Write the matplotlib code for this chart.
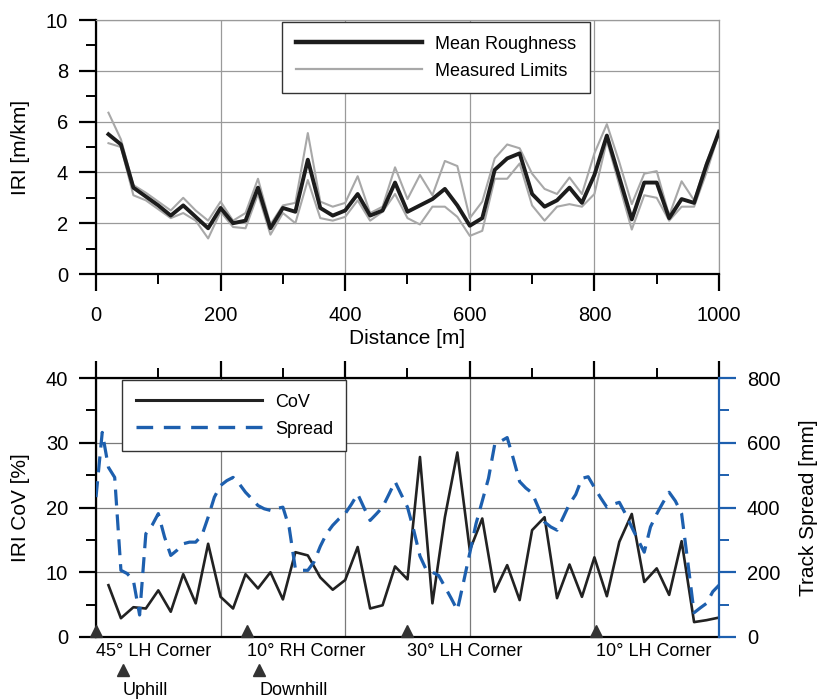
import matplotlib

matplotlib.use("Agg")
import matplotlib.pyplot as plt
import matplotlib.transforms as mtransforms
from matplotlib.lines import Line2D
from matplotlib.ticker import MultipleLocator
import numpy as np

plt.rcParams["font.family"] = ["Liberation Sans", "DejaVu Sans"]

# IRI roughness along the track, every 20 m
distance = np.arange(20, 1001, 20)
mean_iri = [5.5, 5.1, 3.4, 3.05, 2.7, 2.3, 2.7, 2.25, 1.8, 2.6,
            2.0, 2.1, 3.4, 1.8, 2.6, 2.45, 4.5, 2.6, 2.3, 2.5,
            3.15, 2.3, 2.5, 3.6, 2.45, 2.7, 2.95, 3.35, 2.7, 1.9,
            2.2, 4.1, 4.55, 4.75, 3.15, 2.65, 2.9, 3.4, 2.8, 3.9,
            5.45, 3.8, 2.15, 3.6, 3.6, 2.2, 2.95, 2.8, 4.3, 5.6]
upper_iri = [6.35, 5.3, 3.5, 3.2, 2.85, 2.5, 3.0, 2.5, 2.1, 2.85,
             2.1, 2.4, 3.75, 1.95, 2.7, 2.8, 5.55, 2.85, 2.65, 2.8,
             3.85, 2.4, 2.65, 4.2, 2.95, 3.9, 3.1, 4.45, 4.25, 2.2,
             2.85, 4.55, 5.1, 4.95, 3.95, 3.35, 3.15, 3.8, 3.15, 4.75,
             5.9, 4.4, 2.75, 3.95, 4.05, 2.3, 3.65, 2.9, 4.4, 5.6]
lower_iri = [5.15, 5.0, 3.1, 2.9, 2.55, 2.2, 2.4, 2.1, 1.4, 2.45,
             1.85, 1.8, 3.15, 1.55, 2.4, 2.0, 3.7, 2.2, 2.1, 2.25,
             2.9, 2.1, 2.45, 3.15, 2.2, 1.95, 2.65, 2.65, 2.25, 1.5,
             1.7, 3.75, 3.75, 4.35, 2.7, 2.1, 2.65, 2.75, 2.65, 3.15,
             5.25, 3.5, 1.75, 3.1, 3.0, 2.1, 2.65, 2.65, 4.0, 5.55]
cov = [8.0, 2.9, 4.6, 4.4, 7.2, 3.9, 9.7, 5.2, 14.4, 6.2,
       4.4, 9.7, 7.5, 10.0, 5.8, 13.1, 12.6, 9.2, 7.3, 8.8,
       13.9, 4.4, 4.9, 10.9, 8.9, 27.8, 5.2, 18.5, 28.5, 13.4,
       18.3, 7.0, 11.1, 5.7, 16.5, 18.5, 6.0, 11.2, 6.2, 12.3,
       6.3, 14.7, 19.0, 8.5, 10.6, 6.5, 14.8, 2.3, 2.6, 3.0]

# track spread, every 10 m
spread_dist = np.arange(0, 1001, 10)
spread_mm = [432, 632, 524, 493, 206, 196, 175, 68, 319, 345,
             381, 309, 252, 268, 288, 293, 293, 314, 370, 432,
             468, 483, 493, 473, 447, 427, 406, 396, 391, 397,
             401, 339, 211, 206, 206, 232, 280, 319, 345, 365,
             381, 410, 442, 400, 360, 380, 401, 440, 480, 440,
             401, 330, 250, 208, 200, 190, 155, 120, 83, 170,
             260, 350, 420, 490, 595, 605, 616, 550, 480, 460,
             445, 400, 355, 340, 330, 370, 411, 440, 490, 495,
             462, 430, 401, 410, 416, 380, 339, 300, 262, 340,
             380, 415, 447, 420, 381, 230, 75, 90, 104, 140, 160]

features = ["45° LH Corner", "10° RH Corner", "30° LH Corner", "10° LH Corner"]
feature_x = [0, 242, 500, 802]
grades = ["Uphill", "Downhill"]
grade_x = [43, 262]

BLUE = "#1d5fae"
GRID = "#9a9a9a"

fig = plt.figure(figsize=(8.2, 7), dpi=100)
ax1 = fig.add_axes([96 / 820, 1 - 274 / 700, 623 / 820, 254 / 700])
ax2 = fig.add_axes([96 / 820, 1 - 637 / 700, 623 / 820, 259 / 700])
ax2r = ax2.twinx()

# --- top: IRI ---
ax1.plot(distance, upper_iri, color="#a8a8a8", lw=1.5, zorder=2)
ax1.plot(distance, lower_iri, color="#a8a8a8", lw=1.5, zorder=2)
ax1.plot(distance, mean_iri, color="#1c1c1c", lw=2.8, zorder=3)
ax1.set_xlim(0, 1000)
ax1.set_ylim(0, 10)
ax1.xaxis.set_major_locator(MultipleLocator(200))
ax1.xaxis.set_minor_locator(MultipleLocator(100))
ax1.yaxis.set_major_locator(MultipleLocator(2))
ax1.yaxis.set_minor_locator(MultipleLocator(1))
ax1.grid(which="major", color=GRID, lw=0.9)
ax1.set_axisbelow(True)
for s in ("top", "right"):
    ax1.spines[s].set_color(GRID)
    ax1.spines[s].set_linewidth(0.9)
for s in ("left", "bottom"):
    ax1.spines[s].set_linewidth(1.6)
ax1.tick_params(which="major", direction="out", length=12, width=1.6, labelsize=14.5, pad=8)
ax1.tick_params(axis="x", which="major", pad=11)
ax1.tick_params(which="minor", direction="out", length=7, width=1.4)
ax1.set_xlabel("Distance [m]", fontsize=15)
ax1.xaxis.set_label_coords(0.5, -0.215)
ax1.set_ylabel("IRI [m/km]", fontsize=15)
ax1.yaxis.set_label_coords(-0.106, 0.5)
h1 = [Line2D([], [], color="#1c1c1c", lw=3.2), Line2D([], [], color="#a8a8a8", lw=1.6)]
leg1 = ax1.legend(h1, ["Mean Roughness", "Measured Limits"], loc="upper left",
                  bbox_to_anchor=(0.299, 0.992), borderaxespad=0, fontsize=13,
                  handlelength=7.0, handletextpad=0.7, labelspacing=0.55,
                  fancybox=False, framealpha=1, edgecolor="#333333", borderpad=0.75)
leg1.get_frame().set_linewidth(1.0)

# --- bottom: CoV and spread ---
ax2.plot(distance, cov, color="#222222", lw=1.9, zorder=3)
ax2r.plot(spread_dist, spread_mm, color=BLUE, lw=2.3, dashes=(5, 2.8), zorder=2)
ax2.set_xlim(0, 1000)
ax2.set_ylim(0, 40)
ax2r.set_ylim(0, 800)
ax2.xaxis.set_major_locator(MultipleLocator(200))
ax2.xaxis.set_minor_locator(MultipleLocator(100))
ax2.yaxis.set_major_locator(MultipleLocator(10))
ax2.yaxis.set_minor_locator(MultipleLocator(5))
ax2r.yaxis.set_major_locator(MultipleLocator(200))
ax2r.yaxis.set_minor_locator(MultipleLocator(100))
ax2.grid(which="major", color="#7a7a7a", lw=0.9)
ax2.set_axisbelow(True)
ax2.spines["right"].set_visible(False)
for s in ("left", "top", "bottom"):
    ax2.spines[s].set_linewidth(1.6)
    ax2r.spines[s].set_visible(False)
ax2r.spines["right"].set_color(BLUE)
ax2r.spines["right"].set_linewidth(1.6)
ax2.tick_params(axis="x", which="both", bottom=False, top=True, labelbottom=False)
ax2.tick_params(which="major", direction="out", length=12, width=1.6, labelsize=14.5, pad=8)
ax2.tick_params(which="minor", direction="out", length=7, width=1.4)
ax2r.tick_params(which="major", direction="out", length=12, width=1.6, labelsize=14.5,
                 pad=8, color=BLUE)
ax2r.tick_params(which="minor", direction="out", length=7, width=1.4, color=BLUE)
ax2.set_ylabel("IRI CoV [%]", fontsize=15)
ax2.yaxis.set_label_coords(-0.106, 0.5)
ax2r.set_ylabel("Track Spread [mm]", fontsize=15)
ax2r.yaxis.set_label_coords(1.128, 0.5)

h2 = [Line2D([], [], color="#222222", lw=2.2),
      Line2D([], [], color=BLUE, lw=2.4, dashes=(5, 3.2))]
leg2 = ax2r.legend(h2, ["CoV", "Spread"], loc="upper left",
                   bbox_to_anchor=(0.042, 0.992), borderaxespad=0, fontsize=13,
                   handlelength=7.0, handletextpad=0.7, labelspacing=0.55,
                   fancybox=False, framealpha=1, edgecolor="#333333", borderpad=0.75)
leg2.get_frame().set_linewidth(1.0)

# feature markers along the track
lift = ax2.transData + mtransforms.ScaledTranslation(0, 4.5 / 72, fig.dpi_scale_trans)
ax2.plot(feature_x, [0] * len(feature_x), ls="none", marker="^", ms=9,
         color="#333333", transform=lift, clip_on=False, zorder=5)
below = mtransforms.blended_transform_factory(ax2.transData, ax2.transAxes)
for x, name in zip(feature_x, features):
    ax2.text(x, -0.055, name, transform=below, ha="left", va="center", fontsize=13)
ax2.plot(grade_x, [-0.128] * len(grade_x), ls="none", marker="^", ms=9,
         color="#333333", transform=below, clip_on=False)
for x, name in zip(grade_x, grades):
    ax2.text(x, -0.205, name, transform=below, ha="left", va="center", fontsize=13)

fig.savefig("out.png", dpi=100)
